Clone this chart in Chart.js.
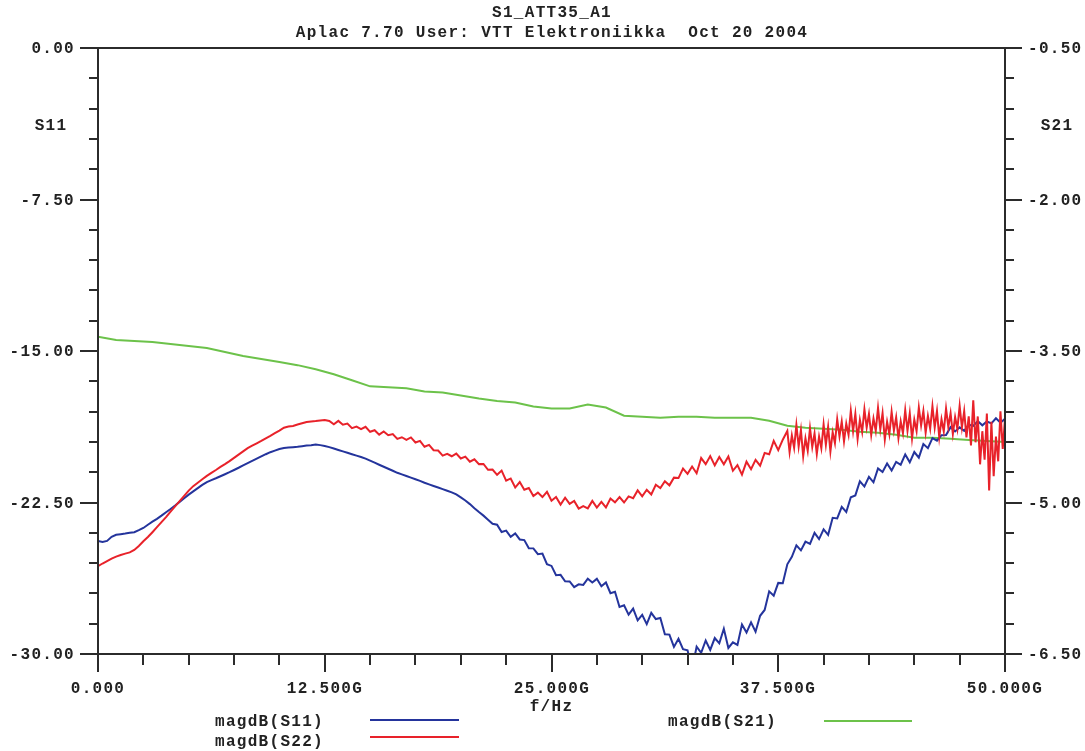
<!DOCTYPE html>
<html>
<head>
<meta charset="utf-8">
<title>S1_ATT35_A1</title>
<script src="https://cdn.jsdelivr.net/npm/chart.js@4.4.1/dist/chart.umd.min.js"></script>
<style>
  html, body { margin: 0; padding: 0; background: #ffffff; }
  #wrap { width: 1085px; height: 751px; position: relative; }
  canvas { display: block; }
</style>
</head>
<body>
<div id="wrap"><canvas id="c" width="1085" height="751"></canvas></div>
<script>
// ---------------- DATA ----------------
const TITLE_LINE_1 = 'S1_ATT35_A1';
const TITLE_LINE_2 = 'Aplac 7.70 User: VTT Elektroniikka  Oct 20 2004';
const X_AXIS_TITLE = 'f/Hz';
const LEFT_AXIS_NAME = 'S11';
const RIGHT_AXIS_NAME = 'S21';

// Frequency grid in GHz for S11 (0.25 GHz spacing)
const FREQ_S11_GHZ = [
  0,0.25,0.5,0.75,1,1.25,1.5,1.75,2,2.25,2.5,2.75,3,3.25,3.5,3.75,
  4,4.25,4.5,4.75,5,5.25,5.5,5.75,6,6.25,6.5,6.75,7,7.25,7.5,7.75,
  8,8.25,8.5,8.75,9,9.25,9.5,9.75,10,10.25,10.5,10.75,11,11.25,11.5,11.75,
  12,12.25,12.5,12.75,13,13.25,13.5,13.75,14,14.25,14.5,14.75,15,15.25,15.5,15.75,
  16,16.25,16.5,16.75,17,17.25,17.5,17.75,18,18.25,18.5,18.75,19,19.25,19.5,19.75,
  20,20.25,20.5,20.75,21,21.25,21.5,21.75,22,22.25,22.5,22.75,23,23.25,23.5,23.75,
  24,24.25,24.5,24.75,25,25.25,25.5,25.75,26,26.25,26.5,26.75,27,27.25,27.5,27.75,
  28,28.25,28.5,28.75,29,29.25,29.5,29.75,30,30.25,30.5,30.75,31,31.25,31.5,31.75,
  32,32.25,32.5,32.75,33,33.25,33.5,33.75,34,34.25,34.5,34.75,35,35.25,35.5,35.75,
  36,36.25,36.5,36.75,37,37.25,37.5,37.75,38,38.25,38.5,38.75,39,39.25,39.5,39.75,
  40,40.25,40.5,40.75,41,41.25,41.5,41.75,42,42.25,42.5,42.75,43,43.25,43.5,43.75,
  44,44.25,44.5,44.75,45,45.25,45.5,45.75,46,46.25,46.5,46.75,47,47.25,47.5,47.75,
  48,48.25,48.5,48.75,49,49.25,49.5,49.75,50
];

// magdB(S11), left axis
const S11_DB = [
  -24.40,-24.45,-24.40,-24.20,-24.10,-24.07,-24.04,-24.00,
  -23.97,-23.87,-23.76,-23.60,-23.45,-23.31,-23.15,-22.98,
  -22.82,-22.65,-22.47,-22.29,-22.11,-21.95,-21.79,-21.63,
  -21.49,-21.39,-21.30,-21.20,-21.10,-21.00,-20.89,-20.78,
  -20.66,-20.55,-20.44,-20.33,-20.22,-20.11,-20.01,-19.93,
  -19.85,-19.80,-19.78,-19.76,-19.74,-19.71,-19.68,-19.66,
  -19.63,-19.66,-19.70,-19.76,-19.83,-19.90,-19.97,-20.04,
  -20.11,-20.18,-20.25,-20.33,-20.43,-20.53,-20.63,-20.73,
  -20.83,-20.93,-21.03,-21.11,-21.19,-21.27,-21.35,-21.43,
  -21.52,-21.60,-21.68,-21.76,-21.84,-21.92,-22.00,-22.10,
  -22.25,-22.40,-22.58,-22.78,-22.97,-23.15,-23.35,-23.55,
  -23.60,-23.96,-23.89,-24.20,-24.03,-24.33,-24.36,-24.76,
  -24.77,-25.06,-25.03,-25.55,-25.64,-26.10,-26.08,-26.40,
  -26.41,-26.69,-26.55,-26.58,-26.27,-26.46,-26.28,-26.65,
  -26.46,-26.99,-26.92,-27.67,-27.59,-28.05,-27.75,-28.33,
  -28.06,-28.52,-27.96,-28.27,-28.22,-29.02,-29.04,-29.65,
  -29.25,-29.76,-29.82,-30.75,-29.64,-29.94,-29.33,-29.80,
  -29.21,-29.47,-28.75,-29.70,-29.42,-29.55,-28.54,-28.94,
  -28.43,-28.90,-28.11,-27.82,-26.90,-27.11,-26.48,-26.50,
  -25.56,-25.19,-24.62,-24.87,-24.44,-24.55,-24.00,-24.31,
  -23.83,-24.10,-23.26,-23.29,-22.72,-22.97,-22.24,-22.15,
  -21.45,-21.71,-21.23,-21.50,-20.81,-20.99,-20.57,-20.92,
  -20.49,-20.63,-20.12,-20.51,-20.00,-20.28,-19.61,-19.81,
  -19.31,-19.44,-19.17,-19.16,-18.77,-18.98,-18.78,-18.95,
  -18.65,-18.71,-18.47,-18.68,-18.49,-18.58,-18.33,-18.55,-18.36
];

// Frequency grid in GHz for S22 (0.25 GHz, then 0.125 GHz above 38 GHz)
const FREQ_S22_GHZ = [
  0,0.25,0.5,0.75,1,1.25,1.5,1.75,2,2.25,2.5,2.75,3,3.25,3.5,3.75,
  4,4.25,4.5,4.75,5,5.25,5.5,5.75,6,6.25,6.5,6.75,7,7.25,7.5,7.75,
  8,8.25,8.5,8.75,9,9.25,9.5,9.75,10,10.25,10.5,10.75,11,11.25,11.5,11.75,
  12,12.25,12.5,12.75,13,13.25,13.5,13.75,14,14.25,14.5,14.75,15,15.25,15.5,15.75,
  16,16.25,16.5,16.75,17,17.25,17.5,17.75,18,18.25,18.5,18.75,19,19.25,19.5,19.75,
  20,20.25,20.5,20.75,21,21.25,21.5,21.75,22,22.25,22.5,22.75,23,23.25,23.5,23.75,
  24,24.25,24.5,24.75,25,25.25,25.5,25.75,26,26.25,26.5,26.75,27,27.25,27.5,27.75,
  28,28.25,28.5,28.75,29,29.25,29.5,29.75,30,30.25,30.5,30.75,31,31.25,31.5,31.75,
  32,32.25,32.5,32.75,33,33.25,33.5,33.75,34,34.25,34.5,34.75,35,35.25,35.5,35.75,
  36,36.25,36.5,36.75,37,37.25,37.5,37.75,
  38,38.125,38.25,38.375,38.5,38.625,38.75,38.875,39,39.125,39.25,39.375,39.5,39.625,39.75,39.875,
  40,40.125,40.25,40.375,40.5,40.625,40.75,40.875,41,41.125,41.25,41.375,41.5,41.625,41.75,41.875,
  42,42.125,42.25,42.375,42.5,42.625,42.75,42.875,43,43.125,43.25,43.375,43.5,43.625,43.75,43.875,
  44,44.125,44.25,44.375,44.5,44.625,44.75,44.875,45,45.125,45.25,45.375,45.5,45.625,45.75,45.875,
  46,46.125,46.25,46.375,46.5,46.625,46.75,46.875,47,47.125,47.25,47.375,47.5,47.625,47.75,47.875,
  48,48.125,48.25,48.375,48.5,48.625,48.75,48.875,49,49.125,49.25,49.375,49.5,49.625,49.75,49.875,
  50
];

// magdB(S22), left axis
const S22_DB = [
  -25.65,-25.52,-25.40,-25.28,-25.18,-25.10,-25.03,-24.97,
  -24.85,-24.65,-24.42,-24.21,-23.97,-23.72,-23.47,-23.22,
  -22.95,-22.69,-22.43,-22.17,-21.91,-21.69,-21.52,-21.35,
  -21.18,-21.03,-20.89,-20.74,-20.60,-20.45,-20.29,-20.13,
  -19.97,-19.81,-19.69,-19.57,-19.45,-19.32,-19.20,-19.07,
  -18.94,-18.80,-18.74,-18.71,-18.64,-18.58,-18.52,-18.49,
  -18.47,-18.44,-18.42,-18.46,-18.63,-18.46,-18.65,-18.59,
  -18.82,-18.74,-18.87,-18.75,-19.00,-18.92,-19.14,-18.98,
  -19.17,-19.11,-19.35,-19.27,-19.40,-19.28,-19.53,-19.45,
  -19.74,-19.65,-19.91,-19.93,-20.18,-20.09,-20.21,-20.08,
  -20.32,-20.23,-20.48,-20.36,-20.60,-20.59,-20.88,-20.87,
  -21.13,-20.92,-21.42,-21.31,-21.76,-21.49,-21.87,-21.78,
  -22.18,-22.01,-22.23,-21.97,-22.41,-22.23,-22.60,-22.26,
  -22.57,-22.42,-22.80,-22.68,-22.79,-22.42,-22.75,-22.47,
  -22.74,-22.30,-22.49,-22.23,-22.50,-22.20,-22.29,-21.90,
  -22.19,-21.87,-22.10,-21.62,-21.79,-21.45,-21.65,-21.27,
  -21.29,-20.82,-21.08,-20.72,-21.05,-20.30,-20.60,-20.20,
  -20.66,-20.25,-20.61,-20.22,-20.93,-20.65,-21.12,-20.48,
  -20.85,-20.39,-20.68,-20.05,-20.11,-19.45,-19.91,-19.39,
  -18.96,-20.01,-19.18,-19.79,-18.66,-19.73,-18.91,-20.21,
  -19.32,-19.94,-18.82,-19.75,-19.08,-20.10,-19.23,-19.81,
  -18.64,-19.64,-18.75,-19.98,-19.02,-19.56,-18.38,-19.23,
  -18.49,-19.48,-18.60,-19.15,-17.96,-18.97,-18.11,-19.35,
  -18.41,-19.01,-17.88,-18.79,-18.11,-19.16,-18.34,-18.95,
  -17.82,-18.89,-18.08,-19.38,-18.50,-19.12,-18.01,-18.94,
  -18.28,-19.32,-18.48,-19.07,-17.93,-18.95,-18.08,-19.33,
  -18.40,-18.97,-17.80,-18.68,-17.97,-19.04,-18.22,-18.85,
  -17.73,-18.79,-17.97,-19.27,-18.38,-18.98,-17.85,-18.76,
  -18.08,-19.11,-18.27,-18.86,-17.72,-18.79,-17.98,-19.28,
  -18.23,-19.67,-17.44,-19.52,-18.24,-20.61,-18.97,-20.38,
  -18.10,-21.90,-18.51,-21.20,-19.24,-20.46,-17.99,-19.85,
  -18.34
];

// Frequency grid in GHz for S21 (1 GHz spacing)
const FREQ_S21_GHZ = [
  0,1,2,3,4,5,6,7,8,9,10,11,12,13,14,15,16,17,18,19,20,21,22,23,24,25,
  26,27,28,29,30,31,32,33,34,35,36,37,38,39,40,41,42,43,44,45,46,47,48,49,50
];

// magdB(S21), right axis
const S21_DB = [
  -3.36,-3.39,-3.40,-3.41,-3.43,-3.45,-3.47,-3.51,-3.55,-3.58,
  -3.61,-3.64,-3.68,-3.73,-3.79,-3.85,-3.86,-3.87,-3.90,-3.91,
  -3.94,-3.97,-3.995,-4.01,-4.05,-4.07,-4.07,-4.03,-4.06,-4.14,
  -4.15,-4.16,-4.15,-4.15,-4.16,-4.16,-4.16,-4.19,-4.24,-4.26,
  -4.27,-4.28,-4.30,-4.31,-4.33,-4.36,-4.36,-4.37,-4.38,-4.39,-4.40
];

// Axis ranges and tick labels
const X_MIN = 0, X_MAX = 50, X_MINOR_STEP = 2.5;
const X_MAJOR_VALUES = [0, 12.5, 25, 37.5, 50];
const X_MAJOR_LABELS = ['0.000', '12.500G', '25.000G', '37.500G', '50.000G'];

const YL_MIN = -30, YL_MAX = 0, YL_MINOR_STEP = 1.5;
const YL_MAJOR_VALUES = [0, -7.5, -15, -22.5, -30];
const YL_MAJOR_LABELS = ['0.00', '-7.50', '-15.00', '-22.50', '-30.00'];

const YR_MIN = -6.5, YR_MAX = -0.5, YR_MINOR_STEP = 0.3;
const YR_MAJOR_VALUES = [-0.5, -2, -3.5, -5, -6.5];
const YR_MAJOR_LABELS = ['-0.50', '-2.00', '-3.50', '-5.00', '-6.50'];

const SERIES_NAMES = ['magdB(S11)', 'magdB(S22)', 'magdB(S21)'];

// ---------------- STYLE ----------------
const COL_S11 = '#24349c';
const COL_S22 = '#e8222a';
const COL_S21 = '#6cc24a';
const AXIS_COL = '#2b2b2b';
const TEXT_COL = '#222222';
const FONT = 'bold 16px "Liberation Mono", "DejaVu Sans Mono", monospace';

function toXY(xs, ys) { return xs.map((x, i) => ({ x: x, y: ys[i] })); }

const apAxes = {
  id: 'apAxes',
  beforeDraw(chart) {
    const ctx = chart.ctx;
    ctx.save();
    ctx.fillStyle = '#ffffff';
    ctx.fillRect(0, 0, chart.width, chart.height);
    ctx.restore();
  },
  afterDraw(chart) {
    const ctx = chart.ctx;
    const a = chart.chartArea;
    const sx = chart.scales.x, sy = chart.scales.y, sr = chart.scales.y2;
    const L = Math.round(a.left), R = Math.round(a.right);
    const T = Math.round(a.top), B = Math.round(a.bottom);
    ctx.save();
    ctx.strokeStyle = AXIS_COL;
    ctx.lineCap = 'butt';

    function line(x1, y1, x2, y2, w) {
      ctx.lineWidth = w;
      ctx.beginPath(); ctx.moveTo(x1, y1); ctx.lineTo(x2, y2); ctx.stroke();
    }

    // left axis ticks
    let n = Math.round((YL_MAX - YL_MIN) / YL_MINOR_STEP);
    for (let i = 0; i <= n; i++) {
      const v = YL_MAX - i * YL_MINOR_STEP;
      const py = Math.round(sy.getPixelForValue(v));
      const major = i % 5 === 0;
      line(L - (major ? 18 : 9), py, L, py, 2);
    }
    // right axis ticks
    n = Math.round((YR_MAX - YR_MIN) / YR_MINOR_STEP);
    for (let i = 0; i <= n; i++) {
      const v = YR_MAX - i * YR_MINOR_STEP;
      const py = Math.round(sr.getPixelForValue(v));
      const major = i % 5 === 0;
      line(R, py, R + (major ? 17 : 9), py, 2);
    }
    // bottom axis ticks
    n = Math.round((X_MAX - X_MIN) / X_MINOR_STEP);
    for (let i = 0; i <= n; i++) {
      const v = X_MIN + i * X_MINOR_STEP;
      const px = Math.round(sx.getPixelForValue(v));
      const major = i % 5 === 0;
      line(px, B, px, B + (major ? 18 : 11), 2);
    }
    // frame
    line(L - 18, T, R + 17, T, 2);
    line(L - 18, B, R + 17, B, 2);
    line(L, T - 1, L, B + 18, 2);
    line(R, T - 1, R, B + 18, 2);

    // texts
    ctx.fillStyle = TEXT_COL;
    ctx.font = FONT;
    if ('letterSpacing' in ctx) ctx.letterSpacing = '1.3px';
    ctx.textBaseline = 'middle';

    ctx.textAlign = 'center';
    ctx.fillText(TITLE_LINE_1, 552, 13);
    ctx.fillText(TITLE_LINE_2, 552, 33);

    ctx.textAlign = 'right';
    YL_MAJOR_VALUES.forEach((v, i) => {
      ctx.fillText(YL_MAJOR_LABELS[i], 75, Math.round(sy.getPixelForValue(v)) + 1);
    });
    ctx.textAlign = 'left';
    YR_MAJOR_VALUES.forEach((v, i) => {
      ctx.fillText(YR_MAJOR_LABELS[i], 1028, Math.round(sr.getPixelForValue(v)) + 1);
    });
    ctx.textAlign = 'center';
    ctx.fillText(LEFT_AXIS_NAME, 51, 126);
    ctx.fillText(RIGHT_AXIS_NAME, 1057, 126);

    X_MAJOR_VALUES.forEach((v, i) => {
      ctx.fillText(X_MAJOR_LABELS[i], Math.round(sx.getPixelForValue(v)), 689);
    });
    ctx.fillText(X_AXIS_TITLE, (L + R) / 2, 707);

    // legend
    ctx.textAlign = 'left';
    ctx.fillText(SERIES_NAMES[0], 215, 722);
    ctx.fillText(SERIES_NAMES[1], 215, 742);
    ctx.fillText(SERIES_NAMES[2], 668, 722);
    ctx.strokeStyle = COL_S11; line(370, 720, 459, 720, 2);
    ctx.strokeStyle = COL_S22; line(370, 737, 459, 737, 2);
    ctx.strokeStyle = COL_S21; line(824, 721, 912, 721, 2);

    ctx.restore();
  }
};

new Chart(document.getElementById('c'), {
  type: 'line',
  data: {
    datasets: [
      { label: SERIES_NAMES[0], data: toXY(FREQ_S11_GHZ, S11_DB), borderColor: COL_S11, yAxisID: 'y', order: 2 },
      { label: SERIES_NAMES[1], data: toXY(FREQ_S22_GHZ, S22_DB), borderColor: COL_S22, yAxisID: 'y', order: 1 },
      { label: SERIES_NAMES[2], data: toXY(FREQ_S21_GHZ, S21_DB), borderColor: COL_S21, yAxisID: 'y2', order: 3 }
    ]
  },
  options: {
    responsive: false,
    animation: false,
    devicePixelRatio: 1,
    layout: { padding: { top: 48, left: 0, right: 0, bottom: 0 } },
    plugins: { legend: { display: false }, title: { display: false }, tooltip: { enabled: false } },
    elements: {
      point: { radius: 0, hoverRadius: 0 },
      line: { borderWidth: 2, tension: 0, fill: false }
    },
    scales: {
      x: {
        type: 'linear', min: X_MIN, max: X_MAX,
        grid: { display: false, drawTicks: false }, border: { display: false },
        ticks: { display: false },
        afterFit(s) { s.height = 97; }
      },
      y: {
        type: 'linear', position: 'left', min: YL_MIN, max: YL_MAX,
        grid: { display: false, drawTicks: false }, border: { display: false },
        ticks: { display: false },
        afterFit(s) { s.width = 98; }
      },
      y2: {
        type: 'linear', position: 'right', min: YR_MIN, max: YR_MAX,
        grid: { display: false, drawTicks: false }, border: { display: false },
        ticks: { display: false },
        afterFit(s) { s.width = 80; }
      }
    }
  },
  plugins: [apAxes]
});
</script>
</body>
</html>
